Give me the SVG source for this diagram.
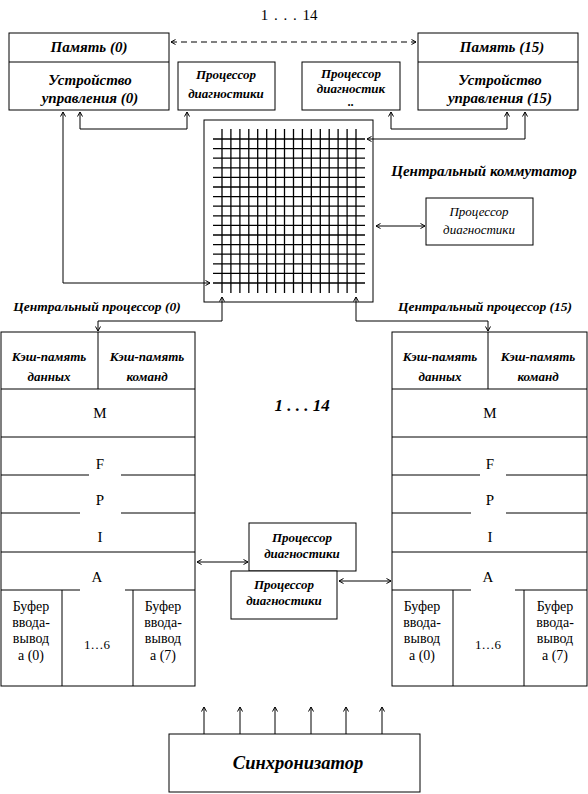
<svg xmlns="http://www.w3.org/2000/svg" width="588" height="794" viewBox="0 0 588 794">
<defs>
<marker id="ah" markerUnits="userSpaceOnUse" markerWidth="6" markerHeight="6" refX="5" refY="3" orient="auto-start-reverse">
<path d="M0.5,0.5 L5,3 L0.5,5.5" fill="none" stroke="#000" stroke-width="1"/>
</marker>
</defs>
<style>
.box{fill:#fff;stroke:#000;stroke-width:1}
.ln{stroke:#000;stroke-width:1;fill:none}
.gl{stroke:#000;stroke-width:1.3}
.con{stroke:#000;stroke-width:1;fill:none;marker-start:url(#ah);marker-end:url(#ah)}
.one{stroke:#000;stroke-width:1;fill:none;marker-end:url(#ah)}
.bi{font-family:"Liberation Serif","DejaVu Serif",serif;font-weight:bold;font-style:italic;text-anchor:middle}
.it{font-family:"Liberation Serif","DejaVu Serif",serif;font-style:italic;text-anchor:middle}
.rg{font-family:"Liberation Serif","DejaVu Serif",serif;text-anchor:middle}
</style>
<rect width="588" height="794" fill="#fff"/>
<text class="rg" x="289" y="20" font-size="15" word-spacing="2">1 . . .  14</text>

<g id="mem0">
<rect class="box" x="9" y="33" width="160" height="77"/>
<line class="ln" x1="9" y1="62" x2="169" y2="62"/>
<text class="bi" x="89" y="52" font-size="15">Память (0)</text>
<text class="bi" x="90" y="85" font-size="15">Устройство</text>
<text class="bi" x="90" y="103" font-size="15">управления (0)</text>
</g>
<g id="diag1">
<rect class="box" x="178" y="62" width="97" height="48"/>
<text class="bi" x="226" y="79" font-size="13">Процессор</text>
<text class="bi" x="226" y="98" font-size="13">диагностики</text>
</g>
<g id="diag2">
<rect class="box" x="302" y="62" width="98" height="48"/>
<text class="bi" x="351" y="78" font-size="13">Процессор</text>
<text class="bi" x="351" y="93" font-size="13">диагностик</text>
<text class="bi" x="351" y="106" font-size="12">..</text>
</g>
<g id="mem15">
<rect class="box" x="418" y="33" width="160" height="77"/>
<line class="ln" x1="418" y1="62" x2="578" y2="62"/>
<text class="bi" x="502" y="52" font-size="15">Память (15)</text>
<text class="bi" x="500" y="85" font-size="15">Устройство</text>
<text class="bi" x="500" y="103" font-size="15">управления (15)</text>
</g>

<g id="commutator">
<rect class="box" x="204" y="120" width="169" height="182"/>
<g class="gl">
<line x1="222" y1="129" x2="222" y2="293"/><line x1="230.9" y1="129" x2="230.9" y2="293"/>
<line x1="239.9" y1="129" x2="239.9" y2="293"/><line x1="248.8" y1="129" x2="248.8" y2="293"/>
<line x1="257.7" y1="129" x2="257.7" y2="293"/><line x1="266.7" y1="129" x2="266.7" y2="293"/>
<line x1="275.6" y1="129" x2="275.6" y2="293"/><line x1="284.5" y1="129" x2="284.5" y2="293"/>
<line x1="293.5" y1="129" x2="293.5" y2="293"/><line x1="302.4" y1="129" x2="302.4" y2="293"/>
<line x1="311.3" y1="129" x2="311.3" y2="293"/><line x1="320.3" y1="129" x2="320.3" y2="293"/>
<line x1="329.2" y1="129" x2="329.2" y2="293"/><line x1="338.1" y1="129" x2="338.1" y2="293"/>
<line x1="347.1" y1="129" x2="347.1" y2="293"/><line x1="356" y1="129" x2="356" y2="293"/>
<line x1="213" y1="139" x2="365" y2="139"/><line x1="213" y1="148.6" x2="365" y2="148.6"/>
<line x1="213" y1="158.2" x2="365" y2="158.2"/><line x1="213" y1="167.8" x2="365" y2="167.8"/>
<line x1="213" y1="177.4" x2="365" y2="177.4"/><line x1="213" y1="187" x2="365" y2="187"/>
<line x1="213" y1="196.6" x2="365" y2="196.6"/><line x1="213" y1="206.2" x2="365" y2="206.2"/>
<line x1="213" y1="215.8" x2="365" y2="215.8"/><line x1="213" y1="225.4" x2="365" y2="225.4"/>
<line x1="213" y1="235" x2="365" y2="235"/><line x1="213" y1="244.6" x2="365" y2="244.6"/>
<line x1="213" y1="254.2" x2="365" y2="254.2"/><line x1="213" y1="263.8" x2="365" y2="263.8"/>
<line x1="213" y1="273.4" x2="365" y2="273.4"/><line x1="213" y1="283" x2="365" y2="283"/>
</g>
<text class="bi" x="484" y="176" font-size="15">Центральный коммутатор</text>
</g>

<g id="diag3">
<rect class="box" x="426" y="198" width="107" height="47"/>
<text class="it" x="479" y="216" font-size="13">Процессор</text>
<text class="it" x="479" y="234" font-size="13">диагностики</text>
</g>

<g id="cpu0">
<text class="bi" x="97" y="311" font-size="13.5">Центральный процессор (0)</text>
<rect class="box" x="1" y="332" width="194" height="354"/>
<line class="ln" x1="98" y1="332" x2="98" y2="389"/>
<line class="ln" x1="1" y1="389" x2="195" y2="389"/>
<line class="ln" x1="1" y1="437" x2="195" y2="437"/>
<line class="ln" x1="1" y1="475" x2="89" y2="475"/><line class="ln" x1="121" y1="475" x2="195" y2="475"/>
<line class="ln" x1="1" y1="513" x2="80" y2="513"/><line class="ln" x1="121" y1="513" x2="195" y2="513"/>
<line class="ln" x1="1" y1="552" x2="195" y2="552"/>
<line class="ln" x1="1" y1="590" x2="80" y2="590"/><line class="ln" x1="125" y1="590" x2="195" y2="590"/>
<line class="ln" x1="62" y1="590" x2="62" y2="686"/>
<line class="ln" x1="133" y1="590" x2="133" y2="686"/>
<text class="bi" x="49" y="361" font-size="13">Кэш-память</text>
<text class="bi" x="49" y="381" font-size="13">данных</text>
<text class="bi" x="147" y="361" font-size="13">Кэш-память</text>
<text class="bi" x="147" y="381" font-size="13">команд</text>
<text class="rg" x="100" y="418" font-size="15">M</text>
<text class="rg" x="100" y="469" font-size="15">F</text>
<text class="rg" x="100" y="505" font-size="15">P</text>
<text class="rg" x="100" y="542" font-size="15">I</text>
<text class="rg" x="97" y="582" font-size="15">A</text>
<text class="rg" x="31" y="611" font-size="14">Буфер</text>
<text class="rg" x="31" y="627" font-size="14">ввода-</text>
<text class="rg" x="31" y="643" font-size="14">вывод</text>
<text class="rg" x="31" y="660" font-size="14">а (0)</text>
<text class="rg" x="97" y="649" font-size="13">1…6</text>
<text class="rg" x="163" y="611" font-size="14">Буфер</text>
<text class="rg" x="163" y="627" font-size="14">ввода-</text>
<text class="rg" x="163" y="643" font-size="14">вывод</text>
<text class="rg" x="163" y="660" font-size="14">а (7)</text>
</g>

<text class="bi" x="302" y="411" font-size="17">1 . . . 14</text>

<g id="cpu15">
<text class="bi" x="485" y="311" font-size="13.5">Центральный процессор (15)</text>
<rect class="box" x="392" y="332" width="195" height="354"/>
<line class="ln" x1="488" y1="332" x2="488" y2="389"/>
<line class="ln" x1="392" y1="389" x2="587" y2="389"/>
<line class="ln" x1="392" y1="437" x2="587" y2="437"/>
<line class="ln" x1="392" y1="475" x2="480" y2="475"/><line class="ln" x1="506" y1="475" x2="587" y2="475"/>
<line class="ln" x1="392" y1="513" x2="471" y2="513"/><line class="ln" x1="506" y1="513" x2="587" y2="513"/>
<line class="ln" x1="392" y1="552" x2="587" y2="552"/>
<line class="ln" x1="392" y1="590" x2="471" y2="590"/><line class="ln" x1="515" y1="590" x2="587" y2="590"/>
<line class="ln" x1="453" y1="590" x2="453" y2="686"/>
<line class="ln" x1="524" y1="590" x2="524" y2="686"/>
<text class="bi" x="440" y="361" font-size="13">Кэш-память</text>
<text class="bi" x="440" y="381" font-size="13">данных</text>
<text class="bi" x="538" y="361" font-size="13">Кэш-память</text>
<text class="bi" x="538" y="381" font-size="13">команд</text>
<text class="rg" x="490" y="418" font-size="15">M</text>
<text class="rg" x="490" y="469" font-size="15">F</text>
<text class="rg" x="490" y="505" font-size="15">P</text>
<text class="rg" x="490" y="542" font-size="15">I</text>
<text class="rg" x="488" y="582" font-size="15">A</text>
<text class="rg" x="422" y="611" font-size="14">Буфер</text>
<text class="rg" x="422" y="627" font-size="14">ввода-</text>
<text class="rg" x="422" y="643" font-size="14">вывод</text>
<text class="rg" x="422" y="660" font-size="14">а (0)</text>
<text class="rg" x="488" y="649" font-size="13">1…6</text>
<text class="rg" x="555" y="611" font-size="14">Буфер</text>
<text class="rg" x="555" y="627" font-size="14">ввода-</text>
<text class="rg" x="555" y="643" font-size="14">вывод</text>
<text class="rg" x="555" y="660" font-size="14">а (7)</text>
</g>

<g id="diag4">
<rect class="box" x="249" y="523" width="107" height="48"/>
<text class="bi" x="302" y="542" font-size="13">Процессор</text>
<text class="bi" x="302" y="558" font-size="13">диагностики</text>
</g>
<g id="diag5">
<rect class="box" x="231" y="571" width="106" height="48"/>
<text class="bi" x="284" y="589" font-size="13">Процессор</text>
<text class="bi" x="284" y="605" font-size="13">диагностики</text>
</g>

<g id="sync">
<rect class="box" x="169" y="734" width="251" height="58"/>
<text class="bi" x="298" y="769" font-size="18.5">Синхронизатор</text>
</g>

<g id="connectors">
<line class="con" x1="171" y1="42" x2="416" y2="42" stroke-dasharray="6,4"/>
<path class="con" d="M63,112 V283 H210"/>
<path class="con" d="M80,112 V129 H187 V112"/>
<path class="con" d="M391,112 V129 H507 V112"/>
<path class="con" d="M525,112 V139 H367"/>
<line class="con" x1="376" y1="226" x2="425" y2="226"/>
<path class="con" d="M222,297 V321 H98 V331"/>
<path class="con" d="M356,297 V321 H488 V331"/>
<line class="con" x1="197" y1="562" x2="248" y2="562"/>
<line class="con" x1="339" y1="581" x2="391" y2="581"/>
<line class="one" x1="204" y1="734" x2="204" y2="707"/>
<line class="one" x1="240" y1="734" x2="240" y2="707"/>
<line class="one" x1="275" y1="734" x2="275" y2="707"/>
<line class="one" x1="311" y1="734" x2="311" y2="707"/>
<line class="one" x1="346" y1="734" x2="346" y2="707"/>
<line class="one" x1="382" y1="734" x2="382" y2="707"/>
</g>
</svg>
